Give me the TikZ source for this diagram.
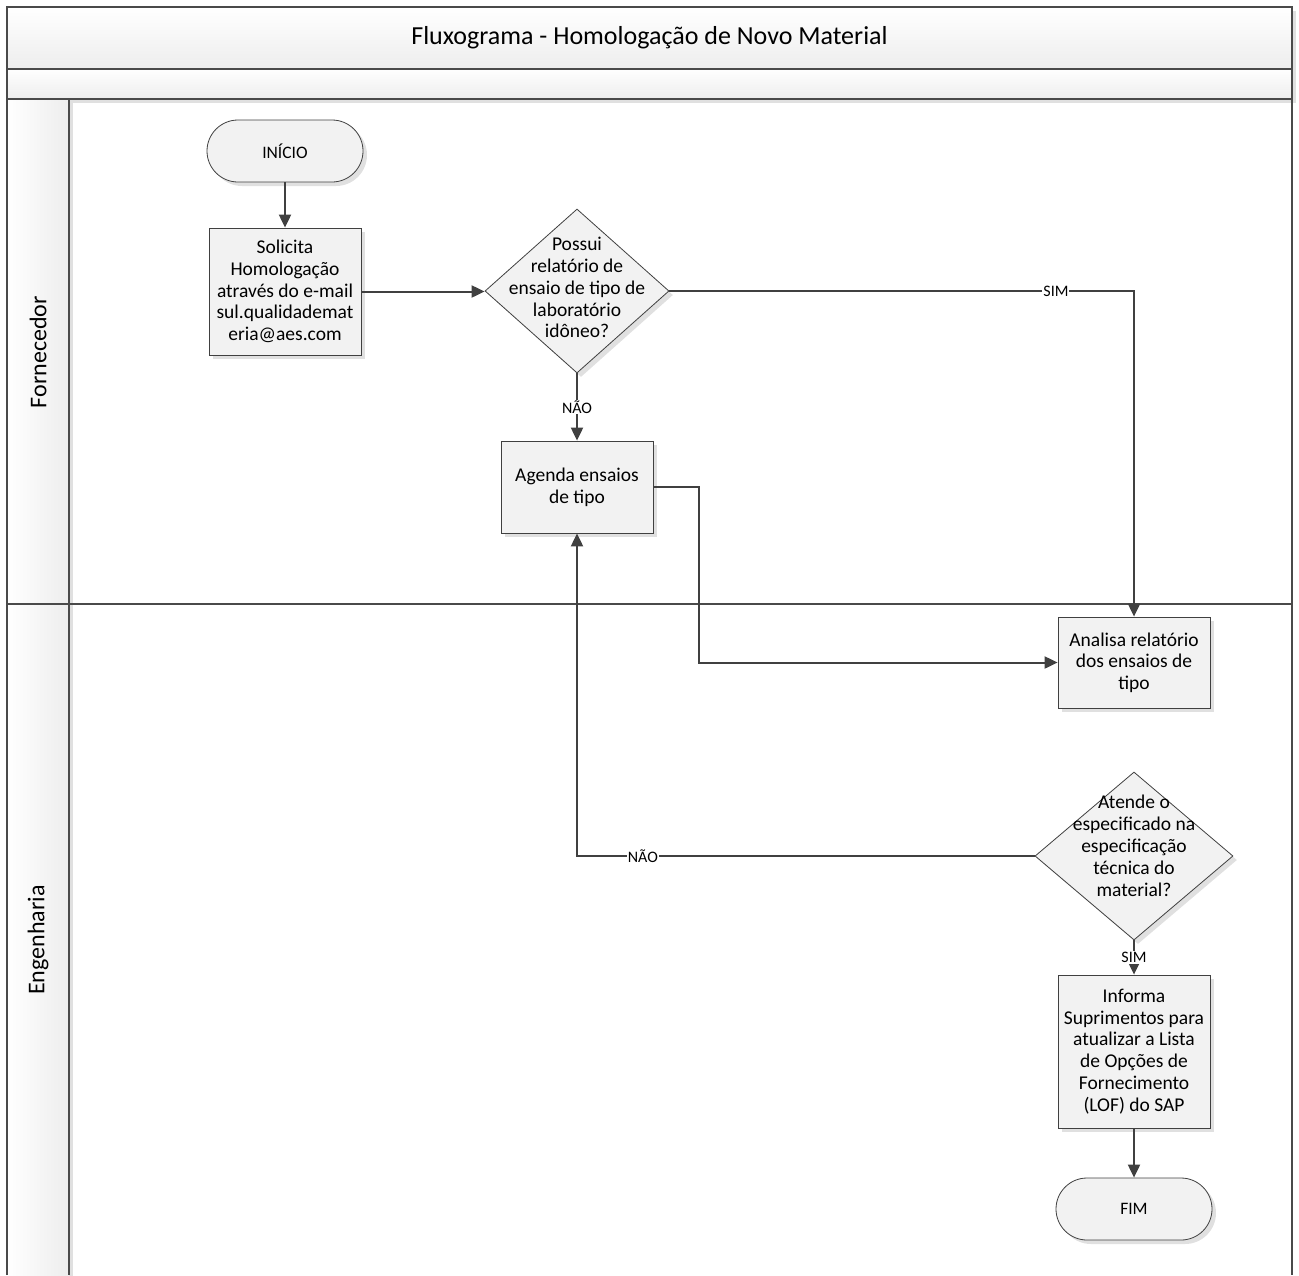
\documentclass[tikz,border=0pt]{standalone}
\usepackage{fontspec}
\setmainfont{Carlito}
\usetikzlibrary{arrows.meta,shadows,shapes.geometric}
\definecolor{ln}{HTML}{404040}
\definecolor{frm}{HTML}{4A4A4A}
% centred multi-line text that does not enlarge its node
\newcommand\dlines[1]{\makebox[0pt]{\smash{\begin{tabular}{@{}c@{}}#1\end{tabular}}}}
\begin{document}
\begin{tikzpicture}[x=1pt,y=-1pt,
  shade/.style={drop shadow={shadow xshift=4pt,shadow yshift=-4pt,fill=black!12,opacity=1}},
  box/.style={draw=ln,line width=0.8pt,fill=black!5,minimum width=152pt,inner sep=0pt,
    align=center,font=\fontsize{19.5}{21.7}\selectfont,shade},
  term/.style={draw=ln,line width=0.8pt,fill=black!5,minimum width=156pt,minimum height=62pt,
    rounded corners=31pt,font=\fontsize{17.5}{21}\selectfont,shade},
  dec/.style={diamond,draw=ln,line width=0.8pt,fill=black!5,inner sep=0pt,
    font=\fontsize{19.5}{21.9}\selectfont,shade},
  arr/.style={draw=ln,line width=2pt,-{Triangle[length=13pt,width=12pt]}},
  lbl/.style={fill=white,inner sep=1pt,font=\fontsize{16}{18}\selectfont},
  lane/.style={font=\fontsize{24}{28}\selectfont,rotate=90},
  border/.style={draw=frm,line width=2pt}
]
\useasboundingbox (0,0) rectangle (1299,1275);

% pool header bands and lane headers
\shade[top color=white,bottom color=black!7] (7,7) rectangle (1292,69);
\shade[top color=white,bottom color=black!7] (7,69) rectangle (1292,99);
\shade[left color=white,right color=black!7] (7,99) rectangle (69,1275);
\node[font=\fontsize{26}{30}\selectfont] (title) at (649.5,38) {Fluxograma - Homologação de Novo Material};

% frame lines
\draw[border] (7,1275) -- (7,7) -- (1292,7) -- (1292,1275);
\draw[border] (7,69) -- (1292,69);
\draw[border] (7,99) -- (1292,99);
\draw[border] (7,604) -- (1292,604);
\draw[border] (69,99) -- (69,1275);

\node[lane] (lf) at (38,352) {Fornecedor};
\node[lane] (le) at (38,940) {Engenharia};

% process nodes
\node[term] (start) at (285,151) {INÍCIO};
\node[box,minimum height=127pt] (req) at (285,291.5)
  {Solicita\\Homologação\\através do e-mail\\sul.qualidademat\\eria@aes.com};
\node[dec,minimum width=184pt,minimum height=164pt] (q1) at (577,291)
  {\raisebox{-8pt}{\dlines{Possui\\relatório de\\ensaio de tipo de\\laboratório\\idôneo?}}};
\node[box,minimum height=92pt] (sched) at (577,487) {Agenda ensaios\\de tipo};
\node[box,minimum height=91pt] (rev) at (1134,662.5) {Analisa relatório\\dos ensaios de\\tipo};
\node[dec,minimum width=198pt,minimum height=168pt] (q2) at (1134,856)
  {\raisebox{5pt}{\dlines{Atende o\\especificado na\\especificação\\técnica do\\material?}}};
\node[box,minimum height=153pt] (inf) at (1134,1051.5)
  {Informa\\Suprimentos para\\atualizar a Lista\\de Opções de\\Fornecimento\\(LOF) do SAP};
\node[term] (end) at (1134,1209) {FIM};

% connectors
\draw[arr] (start) -- (req);
\draw[arr] (req.east) -- (req.east -| q1.west);
\draw[arr] (q1.east) -| node[lbl,pos=0.416] {SIM} (rev.north);
\draw[arr] (q1.south) -- node[lbl] {NÃO} (sched.north);
\draw[arr] (sched.east) -- ++(46,0) |- (rev.west);
\draw[arr] (q2.west) -| node[lbl,pos=0.428] {NÃO} (sched.south);
\draw[arr] (q2.south) -- node[lbl] {SIM} (inf.north);
\draw[arr] (inf) -- (end);
\end{tikzpicture}
\end{document}
